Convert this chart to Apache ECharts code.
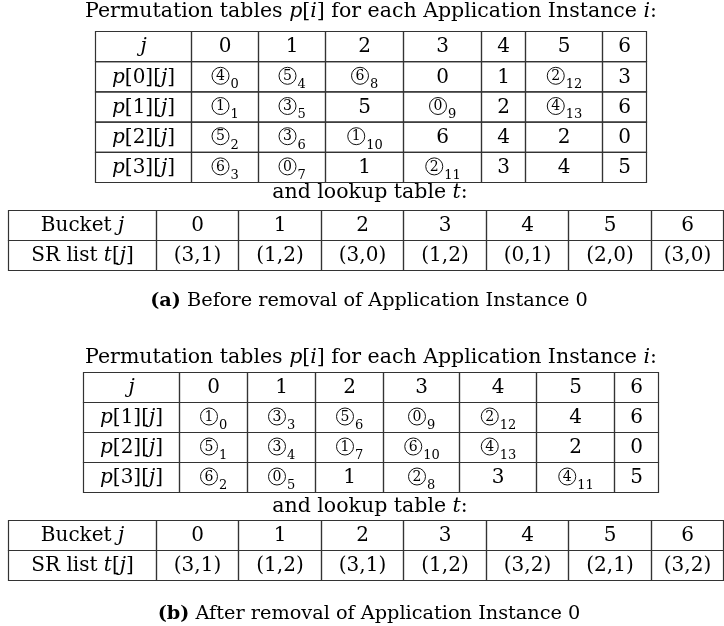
<!DOCTYPE html>
<html><head><meta charset="utf-8">
<script src="https://cdn.jsdelivr.net/npm/echarts@6/dist/echarts.min.js"></script>
<style>html,body{margin:0;padding:0;background:#fff}#c{width:724px;height:626px}</style>
</head><body><div id="c"></div>
<script>
// ---------------- data ----------------
const bucketIds = ['0', '1', '2', '3', '4', '5', '6'];
// "d_s" = circled digit d with subscript s ; plain value otherwise
const instancesBefore = [0, 1, 2, 3];
const permBefore0 = ['4_0', '5_4', '6_8', '0', '1', '2_12', '3'];
const permBefore1 = ['1_1', '3_5', '5', '0_9', '2', '4_13', '6'];
const permBefore2 = ['5_2', '3_6', '1_10', '6', '4', '2', '0'];
const permBefore3 = ['6_3', '0_7', '1', '2_11', '3', '4', '5'];
const lookupBefore = ['(3,1)', '(1,2)', '(3,0)', '(1,2)', '(0,1)', '(2,0)', '(3,0)'];

const instancesAfter = [1, 2, 3];
const permAfter1 = ['1_0', '3_3', '5_6', '0_9', '2_12', '4', '6'];
const permAfter2 = ['5_1', '3_4', '1_7', '6_10', '4_13', '2', '0'];
const permAfter3 = ['6_2', '0_5', '1', '2_8', '3', '4_11', '5'];
const lookupAfter = ['(3,1)', '(1,2)', '(3,1)', '(1,2)', '(3,2)', '(2,1)', '(3,2)'];

// ---------------- layout / style ----------------
const FAM = '"DejaVu Serif"';
const FS = 20;
const TFS = 20.5;
const CFS = 19.3;
const SUBFS = 13;
function f(size, extra) { return (extra ? extra + ' ' : '') + size + 'px ' + FAM; }
function rich(size) {
  return {
    i: { font: f(size, 'italic'), fill: '#000' },
    b: { font: f(size, 'bold'), fill: '#000' }
  };
}
function cum(ws) { const e = [0]; ws.forEach(w => e.push(e[e.length - 1] + w)); return e; }
const tables = [
  { left: 95.5, top: 31.5, widths: [96, 67, 67, 78, 78, 44, 77, 44], rowH: 30.2 },
  { left: 8.5, top: 210.5, widths: [148, 82, 83, 82, 83, 82, 83, 72], rowH: 30 },
  { left: 83.5, top: 372.5, widths: [96, 68, 68, 68, 76, 77, 78, 44], rowH: 30 },
  { left: 8.5, top: 520.5, widths: [148, 82, 83, 82, 83, 82, 83, 72], rowH: 30 }
];

// ---------------- cell builders ----------------
function permTable(instances, rows) {
  const cells = [];
  cells.push([0, 0, '{i|j}']);
  bucketIds.forEach((b, k) => cells.push([k + 1, 0, b]));
  rows.forEach((r, ri) => {
    cells.push([0, ri + 1, '{i|p}[' + instances[ri] + '][{i|j}]']);
    r.forEach((v, k) => cells.push([k + 1, ri + 1, v]));
  });
  return cells;
}
function lookupTable(list) {
  const cells = [];
  cells.push([0, 0, 'Bucket {i|j}']);
  bucketIds.forEach((b, k) => cells.push([k + 1, 0, b]));
  cells.push([0, 1, 'SR list {i|t}[{i|j}]']);
  list.forEach((v, k) => cells.push([k + 1, 1, v]));
  return cells;
}
const tableCells = [
  permTable(instancesBefore, [permBefore0, permBefore1, permBefore2, permBefore3]),
  lookupTable(lookupBefore),
  permTable(instancesAfter, [permAfter1, permAfter2, permAfter3]),
  lookupTable(lookupAfter)
];

function cellContent(label, cx, cy) {
  const m = String(label).split('_');
  if (m.length > 1) {
    const D = 17, r = D / 2, gap = 1.5, subW = 7.5 * m[1].length;
    const total = D + gap + subW;
    const ccx = cx - total / 2 + r, ccy = cy - 1;
    return [
      { type: 'circle', shape: { cx: ccx, cy: ccy, r: r }, style: { fill: 'none', stroke: '#111', lineWidth: 1 } },
      { type: 'text', x: ccx, y: ccy + 0.5, style: { text: m[0], font: f(14), fill: '#000', align: 'center', verticalAlign: 'middle' } },
      { type: 'text', x: ccx + r + gap, y: cy + 8, style: { text: m[1], font: f(SUBFS), fill: '#000', align: 'left', verticalAlign: 'middle' } }
    ];
  }
  return [{ type: 'text', x: cx, y: cy + 0.5,
    style: { text: label, font: f(FS), fill: '#000', align: 'center', verticalAlign: 'middle', rich: rich(FS) } }];
}

const grids = [], xAxes = [], yAxes = [], series = [];
tables.forEach((t, ti) => {
  const edges = cum(t.widths);
  const nRows = Math.max(...tableCells[ti].map(c => c[1])) + 1;
  grids.push({ left: t.left, top: t.top, width: edges[edges.length - 1], height: nRows * t.rowH });
  xAxes.push({ type: 'value', gridIndex: ti, min: 0, max: edges[edges.length - 1], show: false });
  yAxes.push({ type: 'value', gridIndex: ti, min: 0, max: nRows, inverse: true, show: false });
  const labels = tableCells[ti].map(c => c[2]);
  series.push({
    type: 'custom', xAxisIndex: ti, yAxisIndex: ti, silent: true,
    data: tableCells[ti].map(c => [c[0], c[1]]),
    renderItem: function (params, api) {
      const col = api.value(0), row = api.value(1);
      const p0 = api.coord([edges[col], row]);
      const p1 = api.coord([edges[col + 1], row + 1]);
      const children = [
        { type: 'rect', shape: { x: p0[0], y: p0[1], width: p1[0] - p0[0], height: p1[1] - p0[1] },
          style: { fill: 'none', stroke: '#333', lineWidth: 1.2 } }
      ].concat(cellContent(labels[params.dataIndex], (p0[0] + p1[0]) / 2, (p0[1] + p1[1]) / 2));
      return { type: 'group', children: children };
    }
  });
});

function txt(x, y, text, size) {
  return { type: 'text', x: x, y: y, silent: true,
    style: { text: text, font: f(size), fill: '#000', align: 'center', verticalAlign: 'middle', rich: rich(size) } };
}
const titlePerm = 'Permutation tables {i|p}[{i|i}] for each Application Instance {i|i}:';
const titleLookup = 'and lookup table {i|t}:';

const chart = echarts.init(document.getElementById('c'), null, { renderer: 'canvas' });
chart.setOption({
  animation: false,
  backgroundColor: '#fff',
  grid: grids, xAxis: xAxes, yAxis: yAxes, series: series,
  graphic: [
    txt(371, 12, titlePerm, TFS),
    txt(370, 193, titleLookup, TFS),
    txt(369, 301, '{b|(a)} Before removal of Application Instance 0', CFS),
    txt(371, 358, titlePerm, TFS),
    txt(370, 507, titleLookup, TFS),
    txt(369, 614, '{b|(b)} After removal of Application Instance 0', CFS)
  ]
});
</script></body></html>
